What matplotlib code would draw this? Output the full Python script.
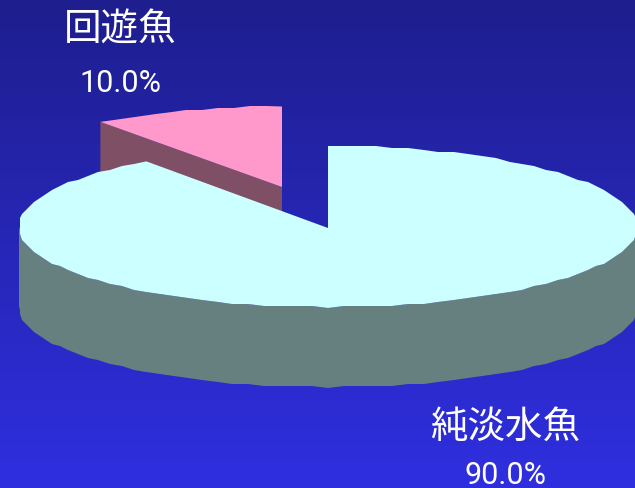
import numpy as np
import matplotlib
matplotlib.use('Agg')
import matplotlib.pyplot as plt
from matplotlib.patches import Polygon

plt.rcParams['font.family'] = ['Noto Sans CJK JP', 'DejaVu Sans']

labels = ['回遊魚', '純淡水魚']
shares = [10.0, 90.0]
top_colors = ['#ff99cc', '#ccffff']
side_colors = ['#7f4f66', '#668080']

# pie geometry in image pixels
a = 309.0
b = 80.5
depth = 80.0
fresh_center = (328.0, 226.5)
fresh_apex = (328.0, 228.0)
pink_center = (282.0, 187.0)
grid = 2.0  # the source chart has a rough, stepped outline
num_font = ['Roboto', 'Liberation Sans']


def rim(center, start, end, n):
    # angles are clockwise from 12 o'clock, degrees
    t = np.radians(np.linspace(start, end, n))
    pts = np.column_stack([center[0] + a * np.sin(t), center[1] - b * np.cos(t)])
    snapped = np.round(pts / grid) * grid
    snapped[0], snapped[-1] = pts[0], pts[-1]
    return snapped


fig = plt.figure(figsize=(6.35, 4.88), dpi=100)
ax = fig.add_axes([0, 0, 1, 1])
ax.set_xlim(0, 635)
ax.set_ylim(488, 0)
ax.axis('off')

# background gradient
grad = np.linspace(0, 1, 256).reshape(-1, 1, 1)
c0 = np.array([0x1e, 0x1e, 0x8e]) / 255
c1 = np.array([0x2f, 0x2f, 0xe0]) / 255
ax.imshow(c0 + grad * (c1 - c0), extent=[0, 635, 488, 0], aspect='auto', zorder=0)

boundary = 360 * shares[0] / sum(shares)

# small slice, cut face then top
p_rim = rim(pink_center, 360 - boundary, 360, 13)
apex = np.array(pink_center)
face = np.array([p_rim[0], apex, apex + [0, depth], p_rim[0] + [0, depth]])
ax.add_patch(Polygon(face, fc=side_colors[0], ec='none', zorder=1))
ax.add_patch(Polygon(np.vstack([apex, p_rim]), fc=top_colors[0], ec='none', zorder=2))

# big slice, wall then top (same 3 degree sampling so the edges meet)
f_wall = rim(fresh_center, 90, 270, 61)
wall = np.vstack([f_wall, (f_wall + [0, depth])[::-1]])
ax.add_patch(Polygon(wall, fc=side_colors[1], ec='none', zorder=3))
f_rim = rim(fresh_center, 0, 360 - boundary, 109)
ax.add_patch(Polygon(np.vstack([fresh_apex, f_rim]), fc=top_colors[1], ec='none', zorder=4))

# labels
ax.text(120, 30, labels[0], color='white', fontsize=27, ha='center', va='center', zorder=5)
ax.text(120, 83, f'{shares[0]:.1f}%', color='white', fontsize=22, ha='center', va='center',
        family=num_font, zorder=5)
ax.text(505, 427, labels[1], color='white', fontsize=27, ha='center', va='center', zorder=5)
ax.text(506, 475, f'{shares[1]:.1f}%', color='white', fontsize=22, ha='center', va='center',
        family=num_font, zorder=5)

fig.savefig('out.png', dpi=100)
